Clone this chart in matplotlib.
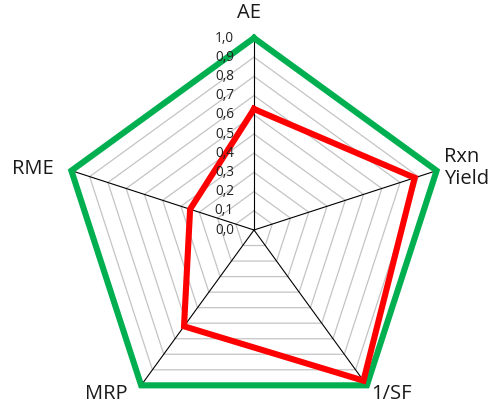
import numpy as np
import matplotlib
matplotlib.use("Agg")
import matplotlib.pyplot as plt

categories = ["AE", "Rxn\nYield", "1/SF", "MRP", "RME"]
ideal_values = [1.0, 1.0, 1.0, 1.0, 1.0]
actual_values = [0.63, 0.88, 0.97, 0.62, 0.35]
tick_values = [0.0, 0.1, 0.2, 0.3, 0.4, 0.5, 0.6, 0.7, 0.8, 0.9, 1.0]
tick_labels = ["0,0", "0,1", "0,2", "0,3", "0,4", "0,5", "0,6", "0,7", "0,8", "0,9", "1,0"]
grid_levels = [0.1, 0.2, 0.3, 0.4, 0.5, 0.6, 0.7, 0.8, 0.9, 1.0]

plt.rcParams['font.family'] = ['Open Sans', 'DejaVu Sans']

W, H = 503, 408
cx, cy, R = 254, 230, 192

fig = plt.figure(figsize=(W / 100, H / 100), dpi=100)
ax = fig.add_axes([0, 0, 1, 1])
ax.set_xlim(-cx / R, (W - cx) / R)
ax.set_ylim(-(H - cy) / R, cy / R)
ax.axis('off')

n = len(categories)
angles = np.pi / 2 - np.arange(n) * 2 * np.pi / n

def to_xy(vals):
    vals = np.asarray(vals, dtype=float)
    x = vals * np.cos(angles)
    y = vals * np.sin(angles)
    return np.append(x, x[0]), np.append(y, y[0])

# pentagonal grid
for lv in grid_levels:
    gx, gy = to_xy([lv] * n)
    ax.plot(gx, gy, color='#c4c4c4', lw=0.9, zorder=1)

# spokes
for a in angles:
    ax.plot([0, np.cos(a)], [0, np.sin(a)], color='#000000', lw=0.8, zorder=2)

gx, gy = to_xy(ideal_values)
ax.plot(gx, gy, color='#00B050', lw=4.4, solid_joinstyle='miter', zorder=3)
rx, ry = to_xy(actual_values)
ax.plot(rx, ry, color='#FF0000', lw=4.4, solid_joinstyle='miter', zorder=4)

# radial tick labels
for v, lab in zip(tick_values, tick_labels):
    ax.text(-20 / R, v, lab, ha='right', va='center', fontsize=9.8,
            color='#222222', zorder=5)

# category labels (pixel positions converted to data units)
label_pos = [(249, 13, 'center'), (444, 168, 'left'), (371, 394, 'left'),
             (128, 394, 'right'), (54, 169, 'right')]
for lab, (px, py, ha) in zip(categories, label_pos):
    ax.text((px - cx) / R, (cy - py) / R, lab, ha=ha, va='center',
            fontsize=14.5, color='#1a1a1a', linespacing=1.1, zorder=5)

fig.savefig('out.png', dpi=100)
